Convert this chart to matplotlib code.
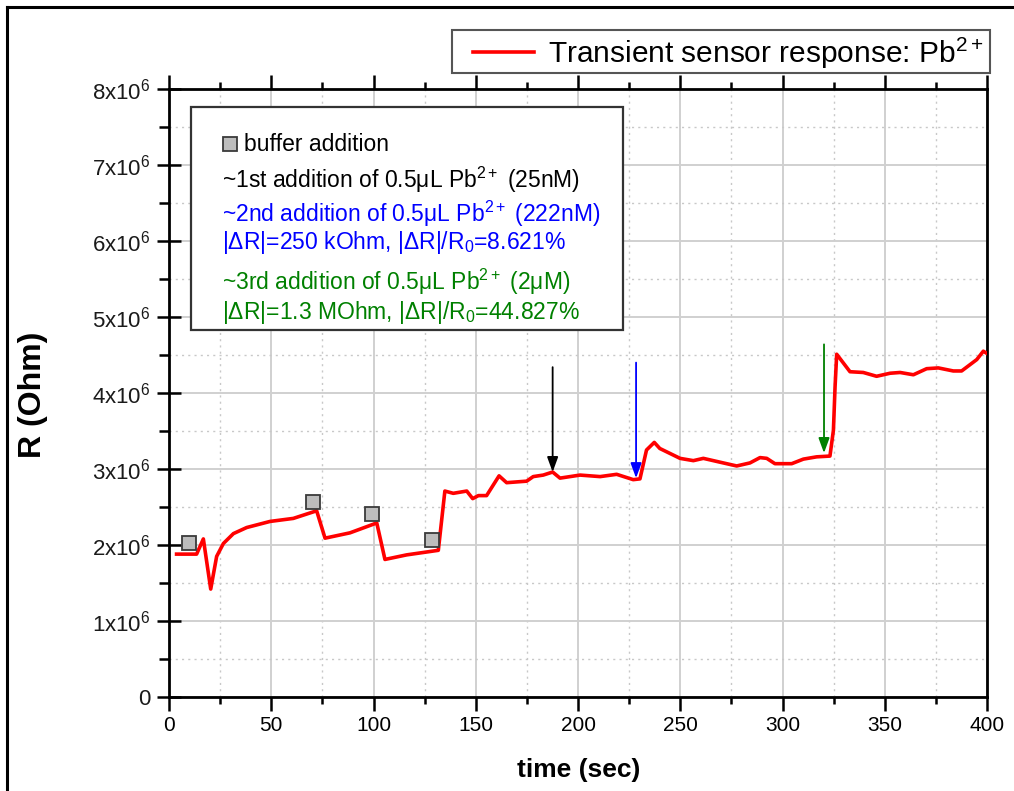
import matplotlib
matplotlib.use("Agg")
import matplotlib.pyplot as plt
from matplotlib.lines import Line2D
from matplotlib.patches import Rectangle
from matplotlib.ticker import MultipleLocator, FuncFormatter
from matplotlib import font_manager

# ---------------- data ----------------
time_s = [3.7, 13.5, 16.8, 20.4, 23.3, 26.6, 31.5, 38, 49.4, 60.8, 72.2, 76.3, 88.5,
          101.6, 105.6, 116.2, 131.7, 134.9, 139, 145.6, 148.5, 151.3, 155.3, 161.4,
          165.1, 174.9, 178.1, 183, 187.6, 191.2, 201, 210.8, 218.9, 227, 230.3, 233.5,
          237.3, 240, 249.9, 256.4, 261.3, 269.4, 277.6, 284.1, 289, 292.3, 296.3,
          304.5, 310.2, 316.7, 323.2, 324.9, 325.7, 326.5, 333, 339.5, 346, 352.6,
          357.5, 364, 370.5, 376.2, 383.5, 387.6, 395, 398.2, 400]
resist_M = [1.88, 1.88, 2.08, 1.42, 1.85, 2.02, 2.15, 2.23, 2.31, 2.35, 2.45, 2.09, 2.16,
            2.29, 1.81, 1.87, 1.93, 2.71, 2.68, 2.71, 2.61, 2.65, 2.65, 2.91,
            2.82, 2.84, 2.90, 2.92, 2.96, 2.88, 2.92, 2.90, 2.93, 2.86, 2.87, 3.25,
            3.35, 3.27, 3.14, 3.11, 3.14, 3.09, 3.04, 3.08, 3.15, 3.14, 3.07,
            3.07, 3.13, 3.16, 3.17, 3.51, 4.08, 4.51, 4.28, 4.27, 4.22, 4.26,
            4.27, 4.24, 4.32, 4.33, 4.29, 4.29, 4.44, 4.55, 4.52]

buffer_t = [9.9, 70.3, 99.1, 128.4]
buffer_R = [2.03, 2.56, 2.41, 2.06]

arrow_t = [187.6, 228.4, 320.3]
arrow_top = [4.34, 4.40, 4.64]
arrow_tip = [2.96, 2.88, 3.21]
arrow_colors = ["black", "blue", "green"]

x_ticks = [0, 50, 100, 150, 200, 250, 300, 350, 400]
y_ticks_M = [0, 1, 2, 3, 4, 5, 6, 7, 8]

# ---------------- fonts ----------------
names = {f.name for f in font_manager.fontManager.ttflist}
base = "Liberation Sans"
narrow = "Liberation Sans Narrow" if "Liberation Sans Narrow" in names else base
plt.rcParams["font.family"] = [base, "DejaVu Sans"]
plt.rcParams["mathtext.fontset"] = "custom"
plt.rcParams["mathtext.rm"] = base
plt.rcParams["mathtext.it"] = base + ":italic"
plt.rcParams["mathtext.bf"] = base + ":bold"

fig = plt.figure(figsize=(10.14, 7.91), dpi=100)
ax = fig.add_axes([169/1014, 1-697/791, 818/1014, 608/791])

scale = 1e6
R = [v*scale for v in resist_M]
ax.plot(time_s, R, color="red", lw=2.6, zorder=3,
        label="Transient sensor response: Pb$^{2+}$")
ax.plot(buffer_t, [v*scale for v in buffer_R], ls="none", marker="s", ms=9.5,
        mfc="#bdbdbd", mec="#3a3a3a", mew=1.3, zorder=4)

for t, top, tip, c in zip(arrow_t, arrow_top, arrow_tip, arrow_colors):
    ax.annotate("", xy=(t, tip*scale), xytext=(t, top*scale),
                arrowprops=dict(arrowstyle="-|>,head_length=0.9,head_width=0.33",
                                color=c, lw=1.3, mutation_scale=10,
                                shrinkA=0, shrinkB=0), zorder=5)

ax.set_xlim(0, 400)
ax.set_ylim(0, 8e6)
ax.set_xticks(x_ticks)
ax.set_yticks([v*scale for v in y_ticks_M])
ax.xaxis.set_minor_locator(MultipleLocator(25))
ax.yaxis.set_minor_locator(MultipleLocator(0.5e6))

def yfmt(v, pos):
    n = int(round(v/scale))
    return "0" if n == 0 else f"{n}x10$^6$"
ax.yaxis.set_major_formatter(FuncFormatter(yfmt))

ax.grid(which="major", color="#d0d0d0", lw=1.4, ls="-", zorder=0)
ax.grid(which="minor", color="#c8c8c8", lw=1.0, ls=(0, (1.5, 3)), zorder=0)
ax.set_axisbelow(True)

for s in ax.spines.values():
    s.set_linewidth(2)
ax.tick_params(axis="x", which="both", top=True, bottom=True, direction="out",
               width=1.8, labelsize=15, pad=4)
ax.tick_params(axis="x", which="major", length=10)
ax.tick_params(axis="x", which="minor", length=5)
ax.tick_params(axis="y", which="major", direction="inout", length=17, width=1.8,
               labelsize=16, pad=5)
ax.tick_params(axis="y", which="minor", direction="out", length=7, width=1.8)
for lab in ax.get_xticklabels():
    lab.set_fontfamily(narrow)
for lab in ax.get_yticklabels():
    lab.set_color("#1a1a1a")

ax.set_xlabel("time (sec)", fontsize=19, fontweight="bold", family=narrow)
ax.xaxis.set_label_coords(0.501, -0.100)
ax.set_ylabel("R (Ohm)", fontsize=23, fontweight="bold")
ax.yaxis.set_label_coords(-0.148, 0.497)

# legend (frame drawn separately to match the reference's padding)
leg = ax.legend(loc="center right", bbox_to_anchor=(0.995, 1.059), fontsize=21.5,
                frameon=False, handlelength=2.05, borderpad=0, handletextpad=0.45,
                borderaxespad=0)
fig.add_artist(Rectangle((452/1014, 1-73/791), 538/1014, 43/791,
                         transform=fig.transFigure, facecolor="none",
                         edgecolor="#555555", lw=1.5))

# annotation box
ax.add_patch(Rectangle((0.027, 0.604), 0.528, 0.366, transform=ax.transAxes,
                       facecolor="white", edgecolor="#333333", lw=1.6, zorder=6))
ax.plot([0.0746], [0.9095], transform=ax.transAxes, ls="none", marker="s", ms=10,
        mfc="#bdbdbd", mec="#3a3a3a", mew=1.3, zorder=7)
fs = 16.5
ax.text(0.0917, 0.9095, "buffer addition", transform=ax.transAxes, fontsize=fs,
        va="center", color="black", zorder=7)
lines = [
    (0.850, "~1st addition of 0.5\u03bcL Pb$^{2+}$ (25nM)", "black"),
    (0.794, "~2nd addition of 0.5\u03bcL Pb$^{2+}$ (222nM)", "blue"),
    (0.748, "|\u0394R|=250 kOhm, |\u0394R|/R$_0$=8.621%", "blue"),
    (0.683, "~3rd addition of 0.5\u03bcL Pb$^{2+}$ (2\u03bcM)", "green"),
    (0.633, "|\u0394R|=1.3 MOhm, |\u0394R|/R$_0$=44.827%", "green"),
]
for y, s, c in lines:
    ax.text(0.0648, y, s, transform=ax.transAxes, fontsize=fs, va="center",
            color=c, zorder=7)

# figure border lines
fig.add_artist(Line2D([7/1014, 7/1014], [0, 1-7/791], color="black", lw=2.2,
                      transform=fig.transFigure))
fig.add_artist(Line2D([7/1014, 1], [1-7/791, 1-7/791], color="black", lw=2.2,
                      transform=fig.transFigure))

fig.savefig("out.png", dpi=100)
